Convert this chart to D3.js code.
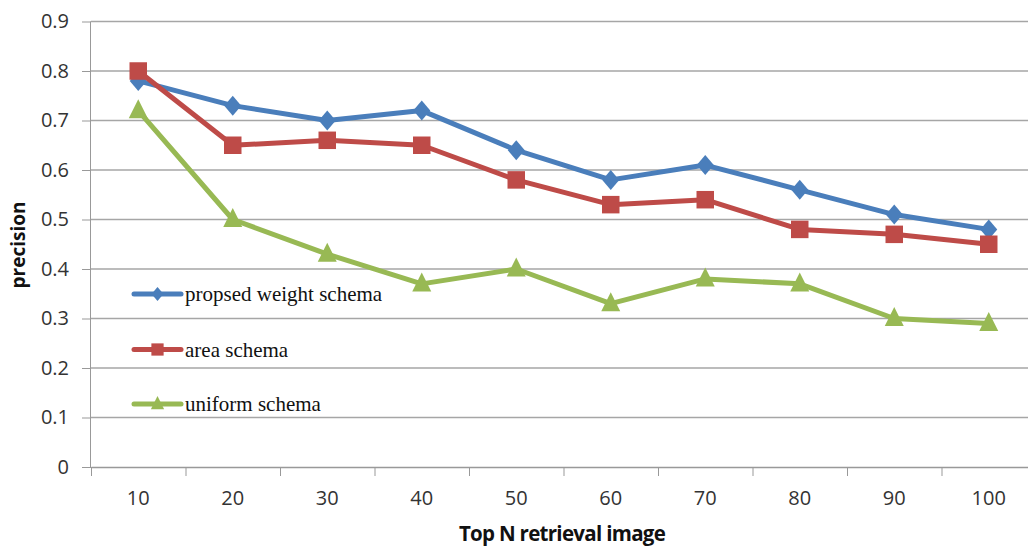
<!DOCTYPE html>
<html><head><meta charset="utf-8">
<script src="https://cdn.jsdelivr.net/npm/d3@7"></script>
<style>body{margin:0;background:#fff}svg{display:block}</style>
</head><body>
<svg id="c" width="1028" height="546"></svg>
<script>
const categories = ["10","20","30","40","50","60","70","80","90","100"];
const proposed = [0.78,0.73,0.70,0.72,0.64,0.58,0.61,0.56,0.51,0.48];
const area = [0.80,0.65,0.66,0.65,0.58,0.53,0.54,0.48,0.47,0.45];
const uniform = [0.72,0.50,0.43,0.37,0.40,0.33,0.38,0.37,0.30,0.29];
const yTicks = [0,0.1,0.2,0.3,0.4,0.5,0.6,0.7,0.8,0.9];
const seriesNames = ["propsed weight schema","area schema","uniform schema"];

function markerPath(kind, w, h) {
  const a = w / 2, b = h / 2;
  if (kind === "diamond") return `M0,${-b}L${a},0L0,${b}L${-a},0Z`;
  if (kind === "square") return `M${-a},${-b}H${a}V${b}H${-a}Z`;
  return `M0,${-h * 0.6}L${a},${h * 0.4}H${-a}Z`;
}

const series = [
  {name: seriesNames[0], values: proposed, color: "#4a7ebb", kind: "diamond", w: 17, h: 20},
  {name: seriesNames[1], values: area, color: "#be4b48", kind: "square", w: 17.5, h: 17.5},
  {name: seriesNames[2], values: uniform, color: "#98b954", kind: "triangle", w: 19, h: 19}
];

const svg = d3.select("#c");
const x = d3.scaleBand().domain(categories).range([91, 1036]);
const y = d3.scaleLinear().domain([0, 0.9]).range([467, 21.5]);

// gridlines
svg.append("g").selectAll("line").data(yTicks.slice(1)).join("line")
  .attr("x1", 91).attr("x2", 1028)
  .attr("y1", d => y(d)).attr("y2", d => y(d))
  .attr("stroke", "#a6a6a6").attr("stroke-width", 1.3);

// y axis
const ya = svg.append("g").attr("transform", "translate(91,0)")
  .call(d3.axisLeft(y).tickValues(yTicks).tickSize(9).tickPadding(13).tickFormat(d => d === 0 ? "0" : d3.format(".1f")(d)));
ya.select(".domain").attr("stroke", "#999").attr("d", "M-0.5,467.5V21.5");
ya.selectAll(".tick line").attr("stroke", "#999");
ya.selectAll("text").attr("font-family", "'Open Sans', sans-serif").attr("font-size", 20).attr("fill", "#333");

// x axis
const xa = svg.append("g").attr("transform", "translate(0,467)")
  .call(d3.axisBottom(x).tickSize(0).tickPadding(24));
xa.select(".domain").attr("stroke", "#999").attr("stroke-width", 1.3);
xa.selectAll("text").attr("font-family", "'Open Sans', sans-serif").attr("font-size", 20).attr("fill", "#333");
svg.append("g").selectAll("line").data(categories).join("line")
  .attr("x1", d => x(d) + 0.5).attr("x2", d => x(d) + 0.5)
  .attr("y1", 467).attr("y2", 476).attr("stroke", "#999");

// lines and markers
const cx = i => x(categories[i]) + x.bandwidth() / 2;
const line = d3.line().x((d, i) => cx(i)).y(d => y(d));
series.forEach(s => {
  svg.append("path").datum(s.values).attr("d", line)
    .attr("fill", "none").attr("stroke", s.color).attr("stroke-width", 5).attr("stroke-linejoin", "round");
  svg.append("g").selectAll("path").data(s.values).join("path")
    .attr("transform", (d, i) => `translate(${cx(i)},${y(d)})`)
    .attr("d", markerPath(s.kind, s.w, s.h))
    .attr("fill", s.color);
});

// legend
const legY = [294, 349.5, 404];
series.forEach((s, i) => {
  const g = svg.append("g").attr("transform", `translate(0,${legY[i]})`);
  g.append("line").attr("x1", 134).attr("x2", 181).attr("y1", 0).attr("y2", 0)
    .attr("stroke", s.color).attr("stroke-width", 5).attr("stroke-linecap", "round");
  g.append("path").attr("transform", "translate(157.5,0)")
    .attr("d", markerPath(s.kind, s.w * 0.7, s.h * 0.7)).attr("fill", s.color);
  g.append("text").attr("x", 185).attr("y", 7).text(s.name)
    .attr("font-family", "'Liberation Serif', serif").attr("font-size", 21).attr("fill", "#111");
});

// axis titles
svg.append("text").attr("transform", "translate(25,245) rotate(-90)").attr("text-anchor", "middle")
  .attr("font-family", "'Open Sans', sans-serif").attr("font-weight", "bold").attr("font-size", 19).attr("fill", "#111")
  .text("precision");
svg.append("text").attr("x", 562).attr("y", 541).attr("text-anchor", "middle")
  .attr("font-family", "'Open Sans', sans-serif").attr("font-weight", "bold").attr("font-size", 20.5).attr("fill", "#111")
  .attr("letter-spacing", -0.7)
  .text("Top N retrieval image");
</script>
</body></html>
